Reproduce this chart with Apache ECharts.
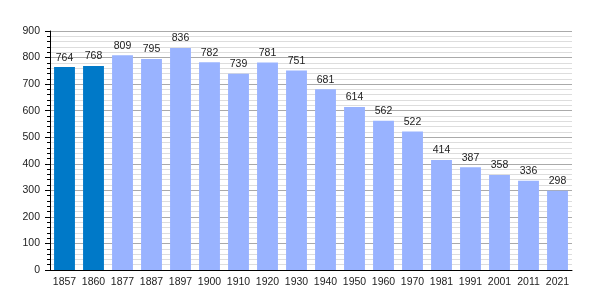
<!DOCTYPE html>
<html><head><meta charset="utf-8">
<script src="https://cdn.jsdelivr.net/npm/echarts@6/dist/echarts.min.js"></script>
<style>html,body{margin:0;padding:0;background:#fff}#c{width:600px;height:300px}</style>
</head><body><div id="c"></div>
<script>
const categories = ['1857','1860','1877','1887','1897','1900','1910','1920','1930','1940','1950','1960','1970','1981','1991','2001','2011','2021'];
const values = [764,768,809,795,836,782,739,781,751,681,614,562,522,414,387,358,336,298];
const highlighted = ['1857','1860'];
const yTicks = [0,100,200,300,400,500,600,700,800,900];

const chart = echarts.init(document.getElementById('c'), null, {renderer:'canvas'});
chart.setOption({
  animation:false,
  grid:{left:50,right:28,top:31,bottom:30,containLabel:false},
  xAxis:{type:'category',data:categories,
    axisLine:{lineStyle:{color:'#000',width:1}},
    axisTick:{show:false},
    axisLabel:{color:'#222',fontFamily:'Liberation Sans, Arial',fontSize:10.5,margin:7,interval:0}},
  yAxis:{type:'value',min:yTicks[0],max:yTicks[yTicks.length-1],interval:100,
    axisLine:{show:true,lineStyle:{color:'#000'}},
    axisTick:{show:true,length:5,lineStyle:{color:'#000'}},
    minorTick:{show:true,splitNumber:5,length:3,lineStyle:{color:'#000'}},
    splitLine:{show:true,lineStyle:{color:'#aaaaaa',width:1}},
    minorSplitLine:{show:true,lineStyle:{color:'#dddddd',width:1}},
    axisLabel:{color:'#222',fontFamily:'Liberation Sans, Arial',fontSize:10.5,margin:10}},
  series:[{type:'bar',barCategoryGap:'28%',
    data:values.map((v,i)=>({value:v,itemStyle:{color:highlighted.includes(categories[i])?'#0079c8':'#99b3ff'}})),
    label:{show:true,position:'top',distance:4,color:'#222',fontFamily:'Liberation Sans, Arial',fontSize:10.5}}]
});
</script></body></html>
